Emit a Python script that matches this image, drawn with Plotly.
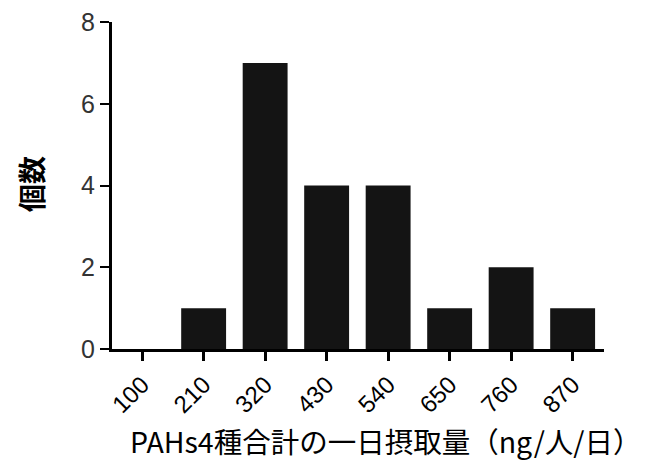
import plotly.graph_objects as go

categories = ["100", "210", "320", "430", "540", "650", "760", "870"]
counts = [0, 1, 7, 4, 4, 1, 2, 1]
y_ticks = [0, 2, 4, 6, 8]

fig = go.Figure(go.Bar(x=categories, y=counts, marker=dict(color="#141414", line=dict(width=0)), width=0.73))

fig.update_layout(
    width=661, height=463,
    margin=dict(l=104, r=65, t=14, b=122, autoexpand=False),
    paper_bgcolor="white", plot_bgcolor="white",
    showlegend=False,
    font=dict(family="Liberation Sans"),
)
fig.update_xaxes(
    type="category", range=[-0.49, 7.51], automargin=False, ticklabeloverflow="allow",
    showline=True, linecolor="black", linewidth=3,
    ticks="outside", ticklen=9, tickwidth=3, tickcolor="black",
    tickangle=-45, tickfont=dict(size=24, color="black", family="Liberation Sans"),
    showgrid=False, zeroline=False,
)
fig.update_yaxes(
    range=[0, 8], tickvals=y_ticks, automargin=False, ticklabeloverflow="allow",
    showline=True, linecolor="black", linewidth=3,
    ticks="outside", ticklen=9, tickwidth=2, tickcolor="black",
    tickfont=dict(size=25, color="#333", family="Liberation Sans"),
    showgrid=False, zeroline=False,
)
fig.add_annotation(
    text="<b>個数</b>", textangle=-90, xref="paper", yref="paper",
    x=(31 - 112) / 492, y=(349 - 184) / 327, xanchor="center", yanchor="middle", showarrow=False,
    font=dict(size=28, color="black", family="Noto Sans CJK JP"),
)
fig.add_annotation(
    text="PAHs4種合計の一日摂取量（ng/人/日）", xref="paper", yref="paper",
    x=(386 - 112) / 492, y=-(440 - 349) / 327, xanchor="center", yanchor="middle", showarrow=False,
    font=dict(size=28.5, color="black", family="Noto Sans CJK JP"),
)
fig.write_html("out.html")
